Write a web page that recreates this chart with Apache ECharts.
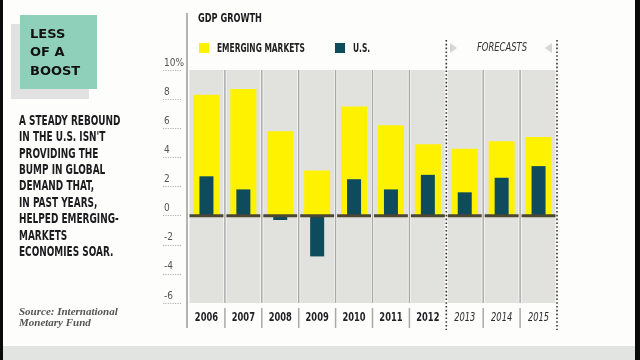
<!DOCTYPE html>
<html><head><meta charset="utf-8">
<script src="https://cdn.jsdelivr.net/npm/echarts@6/dist/echarts.min.js"></script>
<style>html,body{margin:0;padding:0;background:#fdfdfc}#c{width:640px;height:360px}</style>
</head><body><div id="c"></div>
<script>
const categories = ['2006','2007','2008','2009','2010','2011','2012','2013','2014','2015'];
const emergingMarkets = [8.3, 8.7, 5.8, 3.1, 7.5, 6.2, 4.9, 4.6, 5.1, 5.4];
const us = [2.7, 1.8, -0.3, -2.8, 2.5, 1.8, 2.8, 1.6, 2.6, 3.4];
const yTicks = ['10%','8','6','4','2','0','-2','-4','-6'];
const seriesNames = ['EMERGING MARKETS', 'U.S.'];
const forecastStart = '2013';
const yMin = -6, yMax = 10, yStep = 2;

const COND = "'DejaVu Sans Condensed','DejaVu Sans',sans-serif";
const fi = categories.indexOf(forecastStart);
const last = categories.length - 1;
const YELLOW = '#fff200', TEAL = '#0e4b5c';

function renderBg(params, api) {
  const i = api.value(0);
  const t = api.coord([i, yMax]);
  const b = api.coord([i, yMin]);
  const w = api.size([1, 0])[0];
  const x0 = t[0] - w / 2;
  const ch = [{
    type: 'rect', shape: {x: x0 + 1.5, y: t[1], width: w - 3, height: b[1] - t[1]},
    style: {fill: '#e1e2de'}
  }];
  const sepStyle = {stroke: '#a9aaa6', lineWidth: 1.5};
  if (i !== fi - 1 && i !== last) {
    ch.push({type: 'line', shape: {x1: x0 + w, y1: t[1], x2: x0 + w, y2: b[1]}, style: sepStyle});
    ch.push({type: 'line', shape: {x1: x0 + w, y1: b[1] + 5, x2: x0 + w, y2: b[1] + 25}, style: sepStyle});
  }
  const dot = {stroke: '#3d3333', lineWidth: 1.6, lineDash: [1.6, 2.2]};
  if (i === fi) ch.push({type: 'line', shape: {x1: x0, y1: t[1] - 30, x2: x0, y2: b[1] + 27}, style: dot});
  if (i === last) ch.push({type: 'line', shape: {x1: x0 + w, y1: t[1] - 30, x2: x0 + w, y2: b[1] + 27}, style: dot});
  const isF = i >= fi;
  ch.push({
    type: 'text', x: t[0], y: b[1] + 15, scaleX: 0.74,
    style: {text: categories[i], x: 0, y: 0, align: 'center', verticalAlign: 'middle',
      fontFamily: COND, fontSize: 12.5, fontWeight: isF ? 'normal' : 'bold', fontStyle: isF ? 'italic' : 'normal',
      fill: isF ? '#2c2c30' : '#1f1f24'}
  });
  return {type: 'group', children: ch};
}
function renderZero(params, api) {
  const i = api.value(0);
  const z = api.coord([i, 0]);
  const w = api.size([1, 0])[0];
  return {type: 'rect', shape: {x: z[0] - w / 2 + 1.5, y: z[1] - 1.5, width: w - 3, height: 3}, style: {fill: '#4b4733'}};
}

const chart = echarts.init(document.getElementById('c'));
chart.setOption({
  animation: false,
  backgroundColor: '#fdfdfc',
  grid: {left: 188, right: 83, top: 70, bottom: 57},
  xAxis: [{
    type: 'category', data: categories, position: 'bottom',
    axisLine: {show: false}, axisTick: {show: false}, axisLabel: {show: false}
  }, {
    type: 'category', data: categories, show: false
  }],
  yAxis: {
    type: 'value', min: yMin, max: yMax, interval: yStep, offset: 7,
    axisLine: {show: false},
    splitLine: {show: false},
    axisTick: {show: true, length: 18, lineStyle: {color: '#b5b5b5', type: [1.2, 1.2], width: 1}},
    axisLabel: {
      align: 'left', margin: 17, verticalAlign: 'bottom', padding: [0, 0, 2, 0],
      fontFamily: COND, fontSize: 10, color: '#555',
      formatter: v => yTicks[(yMax - v) / yStep]
    }
  },
  series: [
    {type: 'custom', renderItem: renderBg, data: categories.map((c, i) => [i]), z: 1, clip: false, silent: true},
    {name: seriesNames[0], type: 'bar', data: emergingMarkets, barWidth: 26, itemStyle: {color: YELLOW}, z: 2},
    {name: seriesNames[1], type: 'bar', data: us, barWidth: 14, xAxisIndex: 1, itemStyle: {color: TEAL}, z: 3},
    {type: 'custom', renderItem: renderZero, data: categories.map((c, i) => [i]), z: 4, clip: false, silent: true}
  ],
  graphic: [
    {type: 'rect', shape: {x: 0, y: 346, width: 640, height: 14}, style: {fill: '#e2e4e1'}, z: -1},
    {type: 'rect', shape: {x: 0, y: 0, width: 3, height: 360}, style: {fill: '#0a0a0a'}},
    {type: 'rect', shape: {x: 635, y: 0, width: 5, height: 360}, style: {fill: '#0a0a0a'}},
    {type: 'rect', shape: {x: 11, y: 24, width: 78, height: 75}, style: {fill: '#e2e2e2'}},
    {type: 'rect', shape: {x: 20, y: 15, width: 77, height: 74}, style: {fill: '#8fd0bb'}},
    {type: 'text', x: 30, y: 25, style: {text: 'LESS\nOF A\nBOOST', fontFamily: "'DejaVu Sans',sans-serif", fontWeight: 'bold', fontSize: 13, lineHeight: 18.5, fill: '#111'}},
    {type: 'text', x: 19, y: 113, scaleX: 0.71, style: {
      text: "A STEADY REBOUND\nIN THE U.S. ISN'T\nPROVIDING THE\nBUMP IN GLOBAL\nDEMAND THAT,\nIN PAST YEARS,\nHELPED EMERGING-\nMARKETS\nECONOMIES SOAR.",
      fontFamily: COND, fontWeight: 'bold', fontSize: 14, lineHeight: 16.4, fill: '#1c1c1f'}},
    {type: 'text', x: 19, y: 307, style: {text: 'Source: International\nMonetary Fund', fontFamily: "'Liberation Serif','DejaVu Serif',serif", fontStyle: 'italic', fontWeight: 'bold', fontSize: 11, lineHeight: 11, fill: '#555'}},
    {type: 'line', shape: {x1: 187, y1: 13, x2: 187, y2: 328}, style: {stroke: '#9a9a9a', lineWidth: 1.5}},
    {type: 'text', x: 198, y: 19, scaleX: 0.76, style: {text: 'GDP GROWTH', x: 0, y: 0, verticalAlign: 'middle', fontFamily: COND, fontWeight: 'bold', fontSize: 12, fill: '#1c1c1f'}},
    {type: 'rect', shape: {x: 199, y: 43, width: 10, height: 10}, style: {fill: YELLOW}},
    {type: 'text', x: 217, y: 48.5, scaleX: 0.64, style: {text: seriesNames[0], x: 0, y: 0, verticalAlign: 'middle', fontFamily: COND, fontWeight: 'bold', fontSize: 13, fill: '#222'}},
    {type: 'rect', shape: {x: 335, y: 43, width: 10, height: 10}, style: {fill: TEAL}},
    {type: 'text', x: 353, y: 48.5, scaleX: 0.64, style: {text: seriesNames[1], x: 0, y: 0, verticalAlign: 'middle', fontFamily: COND, fontWeight: 'bold', fontSize: 13, fill: '#222'}},
    {type: 'text', x: 502, y: 48, scaleX: 0.75, style: {text: 'FORECASTS', x: 0, y: 0, fontFamily: COND, fontStyle: 'italic', fontSize: 12.5, fill: '#333', align: 'center', verticalAlign: 'middle'}},
    {type: 'polygon', shape: {points: [[450, 43], [450, 53], [457, 48]]}, style: {fill: '#d6d6d6'}},
    {type: 'polygon', shape: {points: [[552, 43], [552, 53], [545, 48]]}, style: {fill: '#d6d6d6'}}
  ]
});
</script></body></html>
